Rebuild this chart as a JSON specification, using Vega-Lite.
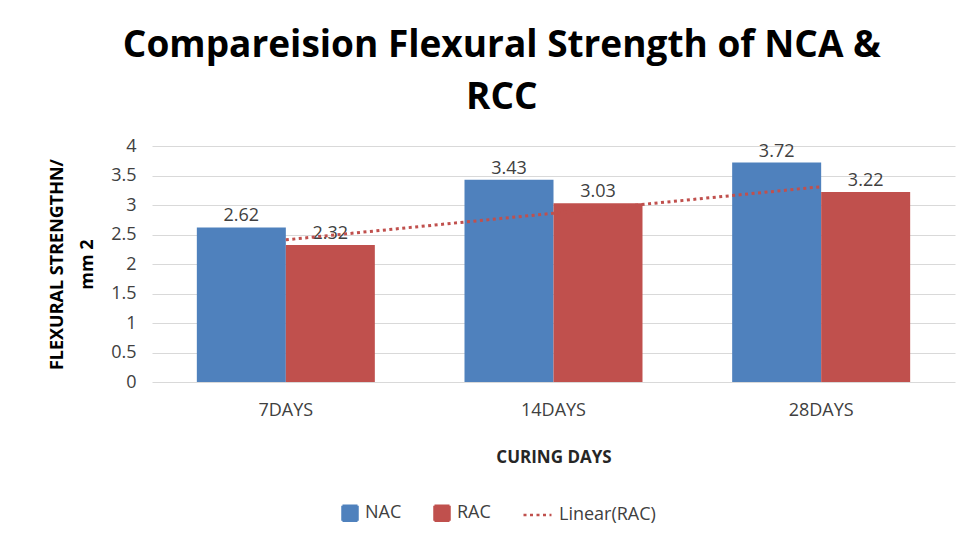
{
  "$schema": "https://vega.github.io/schema/vega-lite/v6.json",
  "width": 803,
  "height": 236,
  "autosize": {"type": "pad"},
  "padding": {"left": 48, "top": 27, "right": 10, "bottom": 10},
  "background": "white",
  "title": {
    "text": ["Compareision Flexural Strength of NCA &", "RCC"],
    "font": "Open Sans",
    "fontSize": 37,
    "fontWeight": "bold",
    "color": "#000000",
    "lineHeight": 52,
    "offset": 20,
    "anchor": "middle",
    "frame": "bounds"
  },
  "config": {
    "view": {"stroke": null},
    "font": "Open Sans"
  },
  "datasets": {
    "bars": [
      {"day": "7DAYS", "series": "NAC", "value": 2.62},
      {"day": "7DAYS", "series": "RAC", "value": 2.32},
      {"day": "14DAYS", "series": "NAC", "value": 3.43},
      {"day": "14DAYS", "series": "RAC", "value": 3.03},
      {"day": "28DAYS", "series": "NAC", "value": 3.72},
      {"day": "28DAYS", "series": "RAC", "value": 3.22}
    ],
    "trend": [
      {"day": "7DAYS", "series": "Linear(RAC)", "value": 2.41},
      {"day": "14DAYS", "series": "Linear(RAC)", "value": 2.86},
      {"day": "28DAYS", "series": "Linear(RAC)", "value": 3.31}
    ]
  },
  "encoding": {
    "x": {
      "field": "day",
      "type": "nominal",
      "sort": ["7DAYS", "14DAYS", "28DAYS"],
      "scale": {"paddingInner": 0.335, "paddingOuter": 0.1675},
      "axis": {
        "title": "CURING DAYS",
        "titleFont": "Open Sans",
        "titleFontSize": 17,
        "titleFontWeight": "bold",
        "titleColor": "#262626",
        "titlePadding": 30,
        "labelFont": "Open Sans",
        "labelFontSize": 18,
        "labelColor": "#404040",
        "labelAngle": 0,
        "labelPadding": 19,
        "domain": false,
        "ticks": false,
        "grid": false
      }
    },
    "y": {
      "field": "value",
      "type": "quantitative",
      "scale": {"domain": [0, 4]},
      "axis": {
        "title": ["FLEXURAL STRENGTHN/", "mm 2"],
        "titleFont": "Open Sans",
        "titleFontSize": 18,
        "titleFontWeight": "bold",
        "titleColor": "#000000",
        "titleLineHeight": 30,
        "titlePadding": 14,
        "labelFont": "Open Sans",
        "labelFontSize": 18,
        "labelColor": "#404040",
        "labelPadding": 16,
        "labelOverlap": false,
        "format": ".1~f",
        "values": [0, 0.5, 1, 1.5, 2, 2.5, 3, 3.5, 4],
        "domain": false,
        "ticks": false,
        "grid": true,
        "gridColor": "#D9D9D9",
        "gridWidth": 1
      }
    }
  },
  "layer": [
    {
      "data": {"name": "bars"},
      "mark": {"type": "bar"},
      "encoding": {
        "xOffset": {"field": "series", "type": "nominal", "sort": ["NAC", "RAC"], "scale": {"paddingInner": 0, "paddingOuter": 0}},
        "color": {
          "field": "series",
          "type": "nominal",
          "scale": {"domain": ["NAC", "RAC", "Linear(RAC)"], "range": ["#4F81BD", "#C0504D", "#C0504D"]},
          "legend": {
            "title": null,
            "orient": "none",
            "legendX": 189,
            "legendY": 358,
            "direction": "horizontal",
            "labelFont": "Open Sans",
            "labelFontSize": 18,
            "labelColor": "#404040",
            "symbolSize": 225,
            "columnPadding": 27,
            "labelOffset": 6,
            "encode": {
              "symbols": {
                "update": {
                  "shape": {"signal": "datum.label === 'Linear(RAC)' ? 'M-1,0H2.73' : 'square'"},
                  "fill": {"signal": "datum.label === 'Linear(RAC)' ? 'transparent' : (datum.label === 'NAC' ? '#4F81BD' : '#C0504D')"},
                  "stroke": {"signal": "datum.label === 'Linear(RAC)' ? '#C0504D' : 'transparent'"},
                  "strokeDash": {"signal": "datum.label === 'Linear(RAC)' ? [3, 3.5] : [1, 0]"},
                  "strokeWidth": {"value": 2.5},
                  "opacity": {"value": 1}
                }
              },
              "labels": {
                "update": {
                  "dx": {"signal": "datum.label === 'Linear(RAC)' ? 13 : 0"}
                }
              }
            }
          }
        }
      }
    },
    {
      "data": {"name": "bars"},
      "mark": {"type": "text", "baseline": "bottom", "dy": -2, "font": "Open Sans", "fontSize": 18, "color": "#404040"},
      "encoding": {
        "xOffset": {"field": "series", "type": "nominal", "sort": ["NAC", "RAC"]},
        "text": {"field": "value", "type": "quantitative", "format": ".2f"}
      }
    },
    {
      "data": {"name": "trend"},
      "mark": {"type": "line", "strokeDash": [3, 3.5], "strokeWidth": 3, "color": "#C0504D"},
      "encoding": {
        "color": {"field": "series", "type": "nominal"}
      }
    }
  ]
}
